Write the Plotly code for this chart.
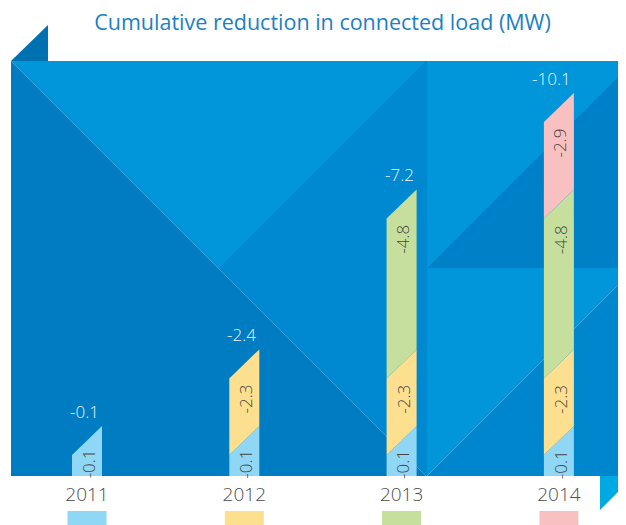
import plotly.graph_objects as go

# data
years = ["2011", "2012", "2013", "2014"]
yearly_reduction = [-0.1, -2.3, -4.8, -2.9]
cumulative_total = [-0.1, -2.4, -7.2, -10.1]
year_colors = ["#8fd7f5", "#fde08f", "#c6df9d", "#f8c0c0"]

# the page body has an 8px margin, so the figure is a bit smaller
# and every pixel position below is given in page pixels
SHIFT = 8
W, H = 626 - SHIFT, 525 - SHIFT
PLOT_L, PLOT_T, PLOT_R, PLOT_B = 11, 61, 626, 476   # page pixels
PW, PH = PLOT_R - PLOT_L, PLOT_B - PLOT_T
PX_Y = 33.3              # pixels per MW
PX_X = 157.3             # pixels between bars
FIRST_BAR = 87           # pixel centre of first bar
half = 15 / PX_X         # half bar width in x units
off = 0.53               # extra height of every bar
slant = 29 / PX_Y        # rise of the slanted top

x_range = [-(FIRST_BAR - PLOT_L) / PX_X, (PLOT_R - FIRST_BAR) / PX_X]
y_range = [0, PH / PX_Y]


def paper(px, py):
    return (px - PLOT_L) / PW, (PLOT_B - py) / PH


def poly(points):
    pts = [paper(x, y) for x, y in points]
    return "M " + " L ".join(f"{x:.5f},{y:.5f}" for x, y in pts) + " Z"


fig = go.Figure()

# background folds
bg = [
    ([(11, 61), (427, 61), (427, 476), (11, 476)], "#0089d0"),
    ([(11, 61), (426, 61), (218.5, 268.5)], "#0096d9"),
    ([(11, 61), (11, 476), (426, 476)], "#007cc2"),
    ([(427, 61), (626, 61), (626, 476), (427, 476)], "#0096d9"),
    ([(427, 268), (626, 268), (626, 69)], "#0081c7"),
    ([(427, 476), (626, 476), (626, 277)], "#0086cc"),
    ([(11, 61), (48, 25), (48, 61)], "#0071b0"),
    ([(600, 476), (626, 476), (626, 484), (600, 510)], "#00a9e2"),
]
shapes = []
for pts, col in bg:
    shapes.append(dict(type="path", xref="paper", yref="paper", path=poly(pts),
                       fillcolor=col, line=dict(width=0), layer="below"))

for p0, p1 in [((11, 61), (427, 477)), ((427, 476), (626, 277))]:
    x0, y0 = paper(*p0)
    x1, y1 = paper(*p1)
    shapes.append(dict(type="line", xref="paper", yref="paper", x0=x0, y0=y0, x1=x1, y1=y1,
                       line=dict(color="rgba(255,255,255,0.28)", width=0.8), layer="below"))

# legend swatches under the years
for j, col in enumerate(year_colors):
    shapes.append(dict(type="rect", xref="x", yref="paper",
                       x0=j - 19.5 / PX_X, x1=j + 19.5 / PX_X,
                       y0=(PLOT_B - 527) / PH, y1=(PLOT_B - 511) / PH,
                       fillcolor=col, line=dict(width=0)))

annotations = []

# stacked slanted bars
for j in range(len(years)):
    base = 0
    for k in range(j + 1):
        top = base + abs(yearly_reduction[k])
        if k == 0:
            bl, br = 0, 0
        else:
            bl = off + base
            br = bl + slant
        tl = off + top
        tr = tl + slant
        fig.add_trace(go.Scatter(
            x=[j - half, j + half, j + half, j - half, j - half],
            y=[bl, br, tr, tl, bl],
            mode="lines", fill="toself", fillcolor=year_colors[k],
            line=dict(width=0), hoverinfo="skip", showlegend=False
        ))
        annotations.append(dict(
            x=j + 1 / PX_X, y=max(tl - 0.62, 0.35), xref="x", yref="y",
            text=f"{yearly_reduction[k]:.1f}", textangle=-90, showarrow=False,
            font=dict(family="Open Sans", size=17, color="#474747", weight=300)
        ))
        base = top
    annotations.append(dict(
        x=j + half - 1 / PX_X, y=off + abs(cumulative_total[j]) + slant + 0.45,
        xref="x", yref="y", xanchor="right", yanchor="middle",
        text=f"{cumulative_total[j]:.1f}", showarrow=False,
        font=dict(family="Open Sans", size=17, color="#eaf5fc", weight=300)
    ))

fig.update_layout(
    width=W, height=H,
    margin=dict(l=PLOT_L - SHIFT, r=0, t=PLOT_T - SHIFT, b=H - (PLOT_B - SHIFT), pad=0),
    paper_bgcolor="white", plot_bgcolor="rgba(0,0,0,0)",
    title=dict(text="Cumulative reduction in connected load (MW)",
               x=(322.5 - SHIFT) / W, xref="container", xanchor="center",
               y=1 - (22.5 - SHIFT) / H, yref="container", yanchor="middle",
               font=dict(family="Open Sans", size=21.5, color="#1b80c4")),
    xaxis=dict(range=x_range, tickvals=list(range(len(years))), ticktext=years,
               showgrid=False, zeroline=False, showline=False, ticks="",
               ticklabelstandoff=5,
               tickfont=dict(family="Open Sans", size=19, color="#4d4d4d", weight=300),
               fixedrange=True),
    yaxis=dict(range=y_range, visible=False, fixedrange=True),
    shapes=shapes,
    annotations=annotations,
    showlegend=False,
)

fig.write_html("out.html")
